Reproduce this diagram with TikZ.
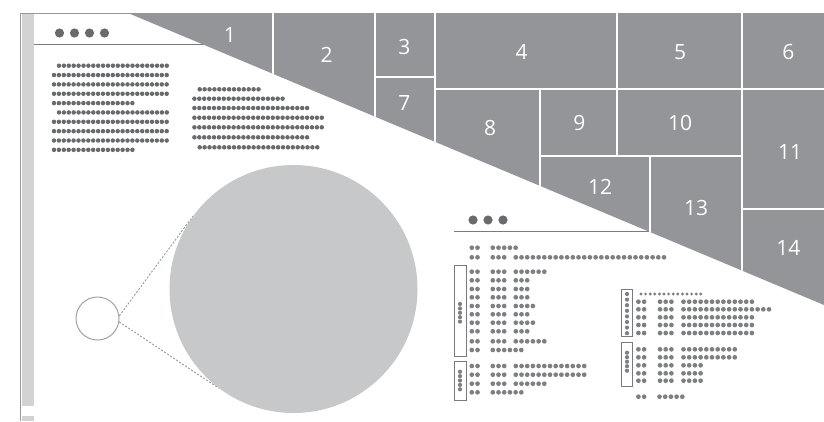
\documentclass[tikz,border=0pt]{standalone}
\usepackage{fontspec}
\setmainfont{Open Sans}

\definecolor{cellgray}{RGB}{147,149,152}
\definecolor{framegray}{RGB}{150,152,155}
\definecolor{bargray}{RGB}{209,211,212}
\definecolor{lensgray}{RGB}{199,200,202}
\definecolor{lensedge}{RGB}{160,162,165}
\definecolor{dotdark}{RGB}{105,106,109}
\definecolor{dotmid}{RGB}{125,127,130}
\definecolor{rulegray}{RGB}{120,122,125}

% a run of #5 dots, pitch #1, radius #2, first centre at (#3,#4)
\newcommand{\dotrun}[5]{\foreach \k in {1,...,#5} {\fill ({#3+(\k-1)*#1},#4) circle (#2pt);}}

\begin{document}
\begin{tikzpicture}[x=1pt, y=-1pt,
  cellline/.style={white, line width=2pt},
  celllabel/.style={white, font=\fontsize{21}{21}\selectfont, inner sep=0pt},
  headrule/.style={rulegray, line width=1pt},
  docbox/.style={draw=rulegray, fill=white, line width=0.9pt},
  zoomline/.style={framegray, line width=0.9pt, dash pattern=on 2pt off 1.6pt}]
  \useasboundingbox (0,0) rectangle (824,421);

  % page frame
  \fill[bargray] (21.5,13.5) rectangle (34,405.7);
  \fill[bargray] (21.5,416) rectangle (34,421);
  \draw[framegray, line width=1.2pt] (20.6,13) -- (20.6,421);
  \draw[framegray, line width=0.8pt] (20,13) -- (824,13);

  % header rules and header dots
  \draw[headrule] (34,44) -- (250,44);
  \draw[headrule] (454,231) -- (660,231);
  \foreach \x in {59.5,74.5,89.5,104.5} \fill[dotdark] (\x,33) circle (4.6pt);
  \foreach \x in {473,488,503} \fill[dotdark] (\x,220) circle (4.6pt);

  % left text columns
  \begin{scope}[dotdark]
    \foreach \y/\x/\n in {65.7/59/23, 75.05/54/24, 84.4/54/24, 93.75/54/24,
      103.1/54/17, 112.45/59/23, 121.8/54/24, 131.15/54/24, 140.5/54/24, 149.85/54/17}
      {\dotrun{4.9}{2.25}{\x}{\y}{\n}}
    \foreach \y/\x/\n in {89.3/199.7/13, 98.7/194.4/19, 108/194.4/24, 117.7/194.4/27,
      127.3/194.4/27, 137.3/194.4/24, 147.3/199.7/25}
      {\dotrun{4.9}{2.25}{\x}{\y}{\n}}
  \end{scope}

  % magnifier
  \node[circle, draw=lensedge, line width=1pt, minimum size=43pt, inner sep=0pt] (lens) at (97.5,318.5) {};
  \node[circle, minimum size=248pt, inner sep=0pt] (zoomed) at (293.5,289) {};
  \draw[zoomline] (lens.7) -- (zoomed.144);
  \draw[zoomline] (lens.-9) -- (zoomed.233);
  \fill[lensgray] (zoomed.center) circle (124pt);

  % first table
  \draw[docbox] (454,265.7) rectangle (466,356);
  \draw[docbox] (454,361.3) rectangle (466,400);
  \begin{scope}[dotmid]
    \dotrun{5.7}{2.35}{471.8}{247.7}{2}
    \dotrun{5.7}{2.35}{492.8}{247.7}{5}
    \foreach \y/\n in {257.3/27, 271.7/6, 280.3/3, 289/3, 297.3/3, 306/4, 314.3/3,
      322.7/4, 331.3/3, 341.3/6, 366/13, 374.7/13, 383.7/6}
      {\dotrun{5.7}{2.35}{471.8}{\y}{2} \dotrun{5.7}{2.35}{492.8}{\y}{3} \dotrun{5.7}{2.35}{515.8}{\y}{\n}}
    \foreach \y in {350, 392.3}
      {\dotrun{5.7}{2.35}{471.8}{\y}{2} \dotrun{5.7}{2.35}{492.8}{\y}{6}}
    \foreach \y in {304,308.4,...,322} \fill (460,\y) circle (2.1pt);
    \foreach \y in {371.7,376.1,...,390} \fill (460,\y) circle (2.1pt);
  \end{scope}

  % second table
  \draw[docbox] (621,289) rectangle (632.3,336.7);
  \draw[docbox] (621,342.7) rectangle (632.3,386.7);
  \begin{scope}[dotmid]
    \dotrun{4.6}{1.6}{641}{294}{14}
    \foreach \y/\n in {301.7/13, 309.3/16, 317.3/13, 325/13, 333/13,
      349.3/10, 357.3/10, 365.3/4, 373.3/4, 380.7/4}
      {\dotrun{5.7}{2.35}{638.4}{\y}{2} \dotrun{5.7}{2.35}{660}{\y}{3} \dotrun{5.7}{2.35}{683.5}{\y}{\n}}
    \dotrun{5.7}{2.35}{638.4}{396.7}{2}
    \dotrun{5.7}{2.35}{659.5}{396.7}{5}
    \foreach \y in {294,299.6,...,334} \fill (627,\y) circle (2.1pt);
    \foreach \y in {352.7,357.2,...,371} \fill (627,\y) circle (2.1pt);
  \end{scope}

  % treemap in the corner
  \begin{scope}
    \clip (128,13) -- (824,13) -- (824,305) -- cycle;
    \fill[cellgray] (128,13) rectangle (824,305);
    \draw[cellline] (273,13) -- (273,305);
    \draw[cellline] (375,13) -- (375,305);
    \draw[cellline] (375,77) -- (435,77);
    \draw[cellline] (435,13) -- (435,305);
    \draw[cellline] (435,89) -- (824,89);
    \draw[cellline] (540,89) -- (540,305);
    \draw[cellline] (617,13) -- (617,156);
    \draw[cellline] (742,13) -- (742,305);
    \draw[cellline] (540,156) -- (742,156);
    \draw[cellline] (650,156) -- (650,305);
    \draw[cellline] (742,209) -- (824,209);
  \end{scope}
  \foreach \n/\x/\y in {1/230/35, 2/326.7/55, 3/404.3/46.7, 4/521.7/51.7,
    5/680/51.7, 6/788.3/51.7, 7/404.3/102.7, 8/490/128, 9/579.3/123.3,
    10/680/123.3, 11/790/151.7, 12/600/187.3, 13/696/208.3, 14/788.3/248.3}
    \node[celllabel] (cell\n) at (\x,\y) {\n};
\end{tikzpicture}
\end{document}
